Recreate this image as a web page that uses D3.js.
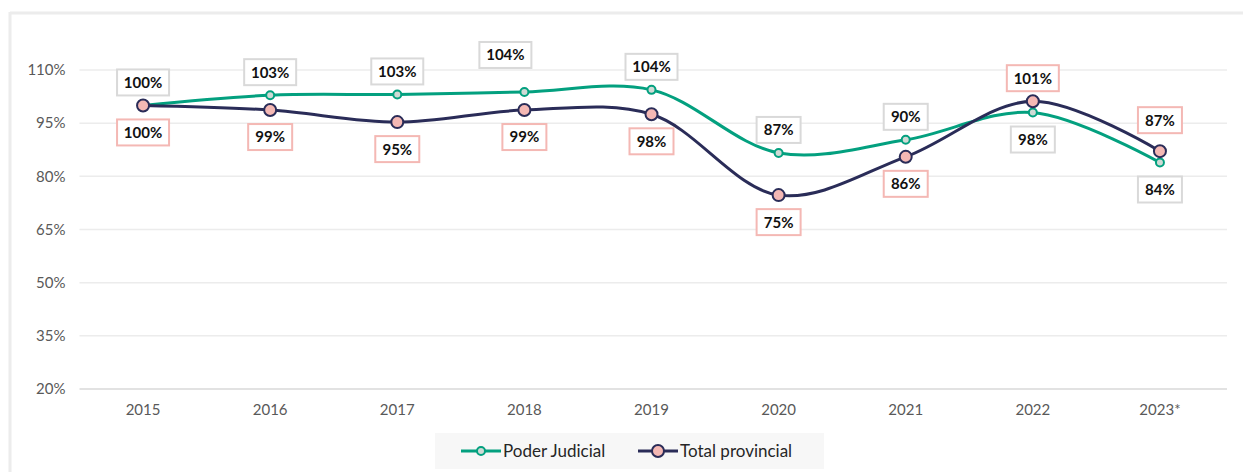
<!doctype html>
<html lang="es">
<head>
<meta charset="utf-8">
<style>
  body, html { margin:0; padding:0; background:#fff; overflow:hidden; }
  svg { display:block; font-family: Lato, "Open Sans", sans-serif; }
</style>
</head>
<body>
<svg id="chart" width="1243" height="472"></svg>
<script src="https://d3js.org/d3.v7.min.js"></script>
<script>

const years = ["2015", "2016", "2017", "2018", "2019", "2020", "2021", "2022", "2023*"];
const poderJudicial = [100, 102.9, 103.1, 103.8, 104.4, 86.6, 90.3, 98.0, 83.9];
const totalProvincial = [100, 98.7, 95.3, 98.7, 97.5, 74.7, 85.5, 101.2, 87.1];
const yTicks = [20, 35, 50, 65, 80, 95, 110];
const seriesNames = ["Poder Judicial", "Total provincial"];

// which side the data label sits on (true = above)
const pjAbove = [true, true, true, true, true, true, true, false, false];
const tpAbove = [false, false, false, false, false, false, false, true, true];

const W = 1243, H = 472;
const margin = {left: 79.5, right: 20, top: 70, bottom: 83};

const svg = d3.select("#chart");

// outer frame (top + left edges visible)
svg.append("line").attr("x1", 10).attr("x2", W).attr("y1", 13).attr("y2", 13)
  .style("stroke", "#ececec").style("stroke-width", 3);
svg.append("line").attr("x1", 10).attr("x2", 10).attr("y1", 12).attr("y2", H)
  .style("stroke", "#ececec").style("stroke-width", 3);

const x = d3.scaleBand().domain(years).range([margin.left, 1223.5]);
const y = d3.scaleLinear().domain([20, 110]).range([389, 70]);

// grid
svg.append("g").selectAll("line").data(yTicks).enter().append("line")
  .attr("x1", margin.left).attr("x2", 1227)
  .attr("y1", d => y(d)).attr("y2", d => y(d))
  .style("stroke", d => d === 20 ? "#d9d9d9" : "#ececec")
  .style("stroke-width", 1.5);

// y axis
const yAxis = svg.append("g").attr("transform", `translate(${margin.left},0)`)
  .call(d3.axisLeft(y).tickValues(yTicks).tickSize(0).tickPadding(14).tickFormat(d => d + "%"));
yAxis.select(".domain").remove();
yAxis.selectAll("text").style("font-size", "15px").style("fill", "#595959")
  .style("font-family", "Lato, sans-serif");

// x axis
const xAxis = svg.append("g").attr("transform", `translate(0,${y(20)})`)
  .call(d3.axisBottom(x).tickSize(0).tickPadding(15));
xAxis.select(".domain").remove();
xAxis.selectAll("text").style("font-size", "15px").style("fill", "#595959")
  .style("font-family", "Lato, sans-serif");

const cx = (d, i) => x(years[i]) + x.bandwidth() / 2;
const line = d3.line().x(cx).y(d => y(d)).curve(d3.curveCatmullRom.alpha(0.5));

const green = "#03a07f", navy = "#2a2c58";

svg.append("path").datum(poderJudicial).attr("d", line)
  .style("fill", "none").style("stroke", green).style("stroke-width", 3);
svg.append("path").datum(totalProvincial).attr("d", line)
  .style("fill", "none").style("stroke", navy).style("stroke-width", 3);

svg.append("g").selectAll("circle").data(poderJudicial).enter().append("circle")
  .attr("cx", cx).attr("cy", d => y(d)).attr("r", 4)
  .style("fill", "#cfdad5").style("stroke", green).style("stroke-width", 2);
svg.append("g").selectAll("circle").data(totalProvincial).enter().append("circle")
  .attr("cx", cx).attr("cy", d => y(d)).attr("r", 6)
  .style("fill", "#f4b8b4").style("stroke", navy).style("stroke-width", 2);

// data labels
const addLabels = (vals, above, border) => {
  const g = svg.append("g");
  vals.forEach((v, i) => {
    let lx = cx(v, i);
    let ly = y(v) + (above[i] ? -23 : 27);
    if (years[i] === "2018" && above[i]) { lx -= 19; ly -= 14; }
    if (years[i] === "2023*" && above[i]) { ly -= 8; }
    const txt = Math.round(v) + "%";
    const w = txt.length > 3 ? 52 : 44;
    const lg = g.append("g").attr("transform", `translate(${lx},${ly})`);
    lg.append("rect").attr("x", -w / 2).attr("y", -13).attr("width", w).attr("height", 26)
      .style("fill", "#fff").style("stroke", border).style("stroke-width", 2);
    lg.append("text").attr("text-anchor", "middle").attr("dy", "0.36em")
      .style("font-size", "15px").style("font-weight", "bold").style("fill", "#111")
      .style("font-family", "Lato, sans-serif").text(txt);
  });
};
addLabels(poderJudicial, pjAbove, "#d9d9d9");
addLabels(totalProvincial, tpAbove, "#f4b8b4");

// legend
const leg = svg.append("g");
leg.append("rect").attr("x", 435).attr("y", 433).attr("width", 389).attr("height", 36)
  .style("fill", "#f7f7f7");
const legItems = [
  {name: seriesNames[0], x: 461, color: green, fill: "#cfdad5", r: 4},
  {name: seriesNames[1], x: 638, color: navy, fill: "#f4b8b4", r: 6}
];
legItems.forEach(it => {
  const gy = 451;
  leg.append("line").attr("x1", it.x).attr("x2", it.x + 40).attr("y1", gy).attr("y2", gy)
    .style("stroke", it.color).style("stroke-width", 3);
  leg.append("circle").attr("cx", it.x + 20).attr("cy", gy).attr("r", it.r)
    .style("fill", it.fill).style("stroke", it.color).style("stroke-width", 2);
  leg.append("text").attr("x", it.x + 42).attr("y", gy).attr("dy", "0.35em")
    .style("font-size", "17px").style("fill", "#262626")
    .style("font-family", "Lato, sans-serif").text(it.name);
});

</script>
</body>
</html>
